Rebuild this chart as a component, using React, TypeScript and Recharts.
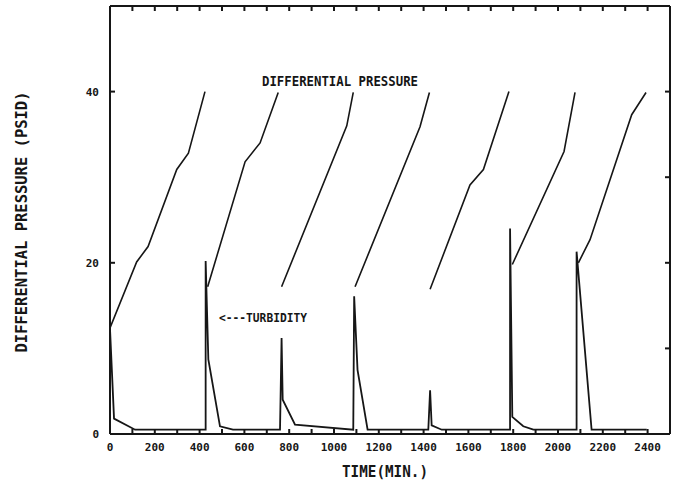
import React from 'react';
import { LineChart, Line, XAxis, YAxis } from 'recharts';

// time (min) / differential pressure (psid), one array per filter run
const run1 = [[0, 12.4], [119, 20.1], [170, 21.9], [298, 30.9], [350, 32.8], [424, 40]];
const run2 = [[436, 17.2], [603, 31.8], [670, 34], [751, 39.9]];
const run3 = [[766, 17.2], [1057, 36], [1086, 39.9]];
const run4 = [[1094, 17.2], [1384, 35.9], [1426, 39.9]];
const run5 = [[1429, 16.9], [1607, 29.1], [1667, 30.9], [1781, 40]];
const run6 = [[1796, 19.8], [2027, 33], [2076, 39.9]];
const run7 = [[2091, 20], [2143, 22.7], [2329, 37.3], [2393, 39.9]];
const pressureRuns = [run1, run2, run3, run4, run5, run6, run7];

// time (min) / turbidity (same axis scale)
const turbidity = [
  [0, 12.3], [18, 1.8], [112, 0.5], [427, 0.5], [427, 20.2], [439, 8.7], [491, 0.9], [549, 0.5],
  [759, 0.5], [766, 11.2], [771, 4], [826, 1.1], [1086, 0.5], [1090, 16.1], [1105, 7.5], [1150, 0.5],
  [1421, 0.5], [1429, 5.1], [1436, 1], [1481, 0.5], [1786, 0.5], [1786, 24], [1796, 2], [1845, 0.9],
  [1890, 0.5], [2083, 0.5], [2083, 21.3], [2150, 0.5], [2396, 0.5],
];

const timeTicks = [0, 100, 200, 300, 400, 500, 600, 700, 800, 900, 1000, 1100, 1200, 1300, 1400, 1500, 1600, 1700, 1800, 1900, 2000, 2100, 2200, 2300, 2400];
const timeLabels = [0, 200, 400, 600, 800, 1000, 1200, 1400, 1600, 1800, 2000, 2200, 2400];
const leftTicks = [0, 20, 40];
const rightTicks = [0, 10, 20, 30, 40, 50];

const toRows = (pts: number[][], key: string) => pts.map(([t, v]) => ({ t, [key]: v }));

const INK = '#161616';
const MONO = '"DejaVu Sans Mono", monospace';

function BottomTick(props: any) {
  const { x, y, payload } = props;
  if (!timeLabels.includes(payload.value)) return null;
  return (
    <text x={x} y={y} dy="0.36em" textAnchor="middle" fontFamily={MONO} fontSize={11} fontWeight="bold" fill={INK}>
      {payload.value}
    </text>
  );
}

function LeftTick(props: any) {
  const { x, y, payload } = props;
  return (
    <text x={x} y={y} dy="0.36em" textAnchor="end" fontFamily={MONO} fontSize={11} fontWeight="bold" fill={INK}>
      {payload.value}
    </text>
  );
}

export default function App() {
  const W = 675;
  const H = 482;
  return (
    <div style={{ position: 'absolute', left: 0, top: 0, width: W, height: H, background: '#fff' }}>
      <LineChart width={W} height={H} margin={{ top: 5, right: 4, bottom: 0, left: 0 }}>
        <XAxis
          dataKey="t"
          type="number"
          domain={[0, 2500]}
          ticks={timeTicks}
          interval={0}
          height={48}
          tickSize={-5}
          tickMargin={18}
          tick={<BottomTick />}
          stroke={INK}
          strokeWidth={2}
          allowDataOverflow
        />
        <XAxis
          xAxisId="top"
          dataKey="t"
          orientation="top"
          type="number"
          domain={[0, 2500]}
          ticks={timeTicks}
          interval={0}
          height={1}
          tickSize={-5}
          tickFormatter={() => ''}
          stroke={INK}
          strokeWidth={2}
          allowDataOverflow
        />
        <YAxis
          type="number"
          domain={[0, 50]}
          ticks={leftTicks}
          interval={0}
          width={110}
          tickSize={-5}
          tickMargin={16}
          tick={<LeftTick />}
          stroke={INK}
          strokeWidth={2}
          allowDataOverflow
        />
        <YAxis
          yAxisId="right"
          orientation="right"
          type="number"
          domain={[0, 50]}
          ticks={rightTicks}
          interval={0}
          width={1}
          tickSize={-5}
          tickFormatter={() => ''}
          stroke={INK}
          strokeWidth={2}
          allowDataOverflow
        />
        {pressureRuns.map((run, i) => (
          <Line
            key={`run-${i}`}
            data={toRows(run, 'p')}
            dataKey="p"
            type="linear"
            stroke={INK}
            strokeWidth={1.6}
            dot={false}
            isAnimationActive={false}
          />
        ))}
        {/* turbidity drawn against the top/right axes (same domains) so the frame axes render */}
        <Line
          xAxisId="top"
          yAxisId="right"
          data={toRows(turbidity, 'n')}
          dataKey="n"
          type="linear"
          stroke={INK}
          strokeWidth={1.8}
          dot={false}
          isAnimationActive={false}
        />
      </LineChart>
      <svg width={W} height={H} style={{ position: 'absolute', left: 0, top: 0, pointerEvents: 'none' }}>
        <text x={262} y={81} dy="0.36em" fontFamily={MONO} fontSize={13.5} fontWeight="bold" textLength={156} lengthAdjust="spacingAndGlyphs" fill={INK}>
          DIFFERENTIAL PRESSURE
        </text>
        <text x={219} y={317} dy="0.36em" fontFamily={MONO} fontSize={13} fontWeight="bold" textLength={88} lengthAdjust="spacingAndGlyphs" fill={INK}>
          {'<---TURBIDITY'}
        </text>
        <text x={342} y={472} dy="0.36em" fontFamily={MONO} fontSize={15} fontWeight="bold" textLength={86} lengthAdjust="spacingAndGlyphs" fill={INK}>
          TIME(MIN.)
        </text>
        <text
          x={22}
          y={222}
          dy="0.36em"
          textAnchor="middle"
          transform="rotate(-90 22 222)"
          fontFamily={MONO}
          fontSize={15}
          fontWeight="bold"
          textLength={261}
          lengthAdjust="spacingAndGlyphs"
          fill={INK}
        >
          DIFFERENTIAL PRESSURE (PSID)
        </text>
      </svg>
    </div>
  );
}
